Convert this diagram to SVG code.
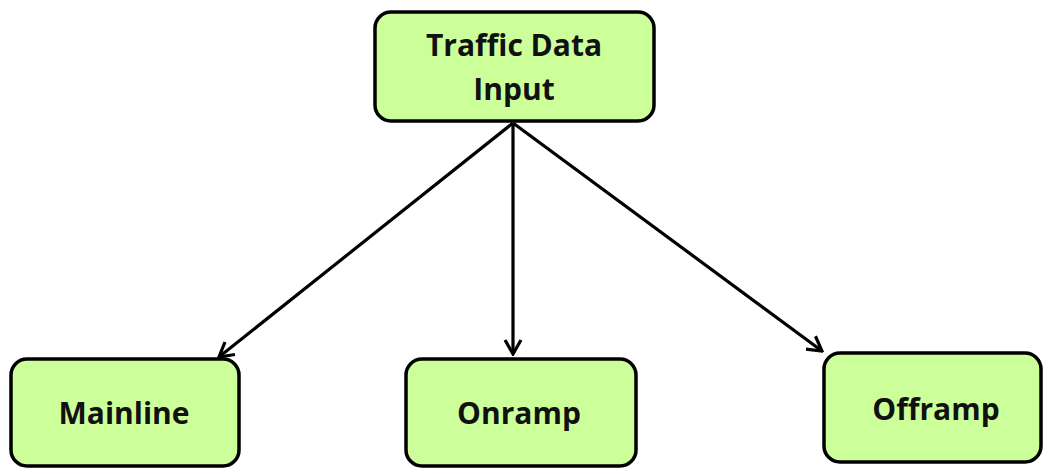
<svg xmlns="http://www.w3.org/2000/svg" width="1043" height="468" viewBox="0 0 1043 468">
<defs>
<style>
.box{fill:#ccff99;stroke:#000;stroke-width:3.5}
.t{font-family:"Open Sans","Liberation Sans",sans-serif;font-weight:700;font-size:30px;fill:#111;text-anchor:middle}
.c{stroke:#000;stroke-width:3.2;fill:none}
</style>
<marker id="ah" viewBox="0 0 20 20" refX="18" refY="10" markerWidth="20" markerHeight="20" markerUnits="userSpaceOnUse" orient="auto">
<path d="M4,2 L18,10 L4,18" fill="none" stroke="#000" stroke-width="3.2"/>
</marker>
</defs>
<g id="connectors">
<line class="c" x1="513" y1="123" x2="219" y2="357" marker-end="url(#ah)"/>
<line class="c" x1="513" y1="123" x2="513" y2="354" marker-end="url(#ah)"/>
<line class="c" x1="513" y1="123" x2="822" y2="351" marker-end="url(#ah)"/>
</g>
<g id="input">
<rect class="box" x="375" y="12" width="279" height="109" rx="16"/>
<text class="t" x="514" y="56">Traffic Data</text>
<text class="t" x="514" y="100">Input</text>
</g>
<g id="mainline">
<rect class="box" x="11" y="359" width="228" height="107" rx="16"/>
<text class="t" x="124" y="424">Mainline</text>
</g>
<g id="onramp">
<rect class="box" x="406" y="359" width="230" height="107" rx="16"/>
<text class="t" x="519" y="424">Onramp</text>
</g>
<g id="offramp">
<rect class="box" x="824" y="353" width="217" height="109" rx="16"/>
<text class="t" x="936" y="420">Offramp</text>
</g>
</svg>
